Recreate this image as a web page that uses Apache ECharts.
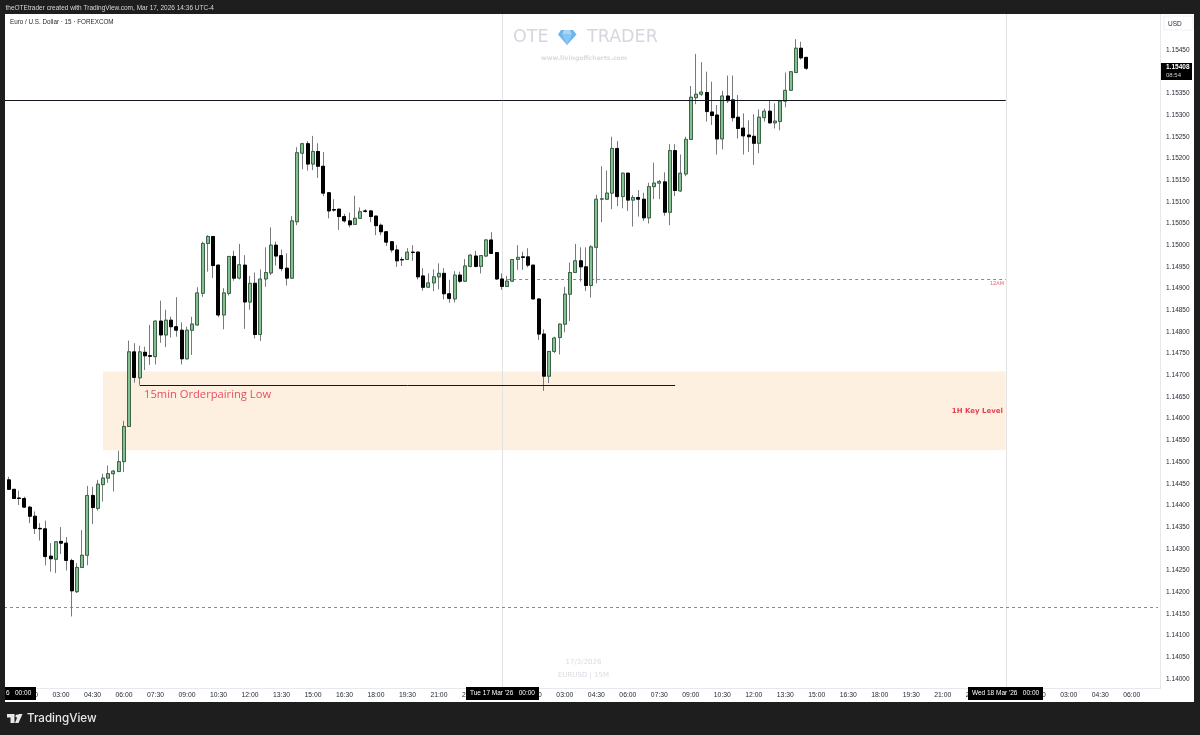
<!DOCTYPE html>
<html><head><meta charset="utf-8">
<style>html,body{margin:0;padding:0;background:#1e1e1e}#c{width:1200px;height:735px}</style>
<script src="https://cdn.jsdelivr.net/npm/echarts@6/dist/echarts.min.js"></script>
</head><body><div id="c"></div>
<script>
const opens=[1.14459,1.14437,1.14417,1.14416,1.14396,1.14375,1.14347,1.14346,1.14283,1.14276,
1.14317,1.14313,1.14273,1.14201,1.14257,1.14285,1.14423,1.14393,1.14448,1.14463,
1.14473,1.14478,1.14501,1.14582,1.14754,1.14694,1.14753,1.14745,1.14743,1.14825,
1.14793,1.14827,1.14812,1.14804,1.14738,1.14804,1.14816,1.14889,1.15004,1.15020,
1.14954,1.14839,1.14889,1.14974,1.14924,1.14954,1.14869,1.14912,1.14794,1.14922,
1.14936,1.15000,1.14976,1.14947,1.14924,1.15054,1.15212,1.15234,1.15187,1.15216,
1.15182,1.15121,1.15082,1.15083,1.15066,1.15056,1.15048,1.15062,1.15079,1.15079,
1.15067,1.15046,1.15031,1.15008,1.14989,1.14967,1.14967,1.14984,1.14984,1.14929,
1.14903,1.14913,1.14927,1.14935,1.14888,1.14876,1.14931,1.14917,1.14951,1.14975,
1.14951,1.14975,1.15012,1.14983,1.14922,1.14905,1.14917,1.14967,1.14973,1.14973,
1.14954,1.14876,1.14795,1.14698,1.14755,1.14787,1.14818,1.14887,1.14937,1.14964,
1.14950,1.14907,1.14995,1.15106,1.15106,1.15120,1.15223,1.15112,1.15166,1.15104,
1.15110,1.15106,1.15063,1.15135,1.15143,1.15146,1.15076,1.15218,1.15125,1.15164,
1.15244,1.15340,1.15348,1.15352,1.15307,1.15300,1.15245,1.15344,1.15335,1.15295,
1.15270,1.15254,1.15251,1.15235,1.15294,1.15309,1.15282,1.15285,1.15332,1.15357,
1.15398,1.15454,1.15433];
const closes=[1.14437,1.14416,1.14416,1.14396,1.14375,1.14347,1.14346,1.14282,1.14277,1.14316,
1.14313,1.14273,1.14203,1.14257,1.14285,1.14423,1.14395,1.14449,1.14463,1.14473,
1.14479,1.14501,1.14582,1.14754,1.14695,1.14754,1.14745,1.14744,1.14825,1.14793,
1.14827,1.14812,1.14804,1.14738,1.14804,1.14818,1.14890,1.15004,1.15020,1.14953,
1.14839,1.14890,1.14974,1.14924,1.14955,1.14869,1.14912,1.14794,1.14922,1.14937,
1.15000,1.14975,1.14946,1.14924,1.15056,1.15213,1.15234,1.15187,1.15216,1.15182,
1.15120,1.15079,1.15081,1.15066,1.15056,1.15047,1.15062,1.15077,1.15078,1.15066,
1.15045,1.15031,1.15007,1.14989,1.14964,1.14966,1.14984,1.14983,1.14927,1.14903,
1.14913,1.14927,1.14935,1.14888,1.14877,1.14931,1.14917,1.14952,1.14977,1.14951,
1.14976,1.15012,1.14981,1.14922,1.14905,1.14917,1.14967,1.14972,1.14972,1.14954,
1.14876,1.14795,1.14698,1.14755,1.14786,1.14818,1.14887,1.14937,1.14964,1.14950,
1.14907,1.14996,1.15106,1.15107,1.15120,1.15223,1.15112,1.15166,1.15104,1.15110,
1.15106,1.15063,1.15135,1.15143,1.15147,1.15076,1.15218,1.15126,1.15166,1.15244,
1.15341,1.15348,1.15353,1.15308,1.15299,1.15245,1.15344,1.15333,1.15294,1.15269,
1.15252,1.15250,1.15235,1.15295,1.15309,1.15282,1.15286,1.15332,1.15357,1.15400,
1.15454,1.15432,1.15408];
const highs=[1.14466,1.14437,1.14434,1.14420,1.14399,1.14386,1.14359,1.14365,1.14313,1.14317,
1.14350,1.14327,1.14277,1.14267,1.14343,1.14445,1.14443,1.14459,1.14473,1.14492,
1.14482,1.14526,1.14595,1.14780,1.14774,1.14768,1.14766,1.14816,1.14826,1.14872,
1.14851,1.14835,1.14880,1.14822,1.14812,1.14835,1.14903,1.15008,1.15023,1.15021,
1.14955,1.14901,1.14975,1.14987,1.15003,1.14977,1.14929,1.14937,1.14944,1.14995,
1.15041,1.15008,1.14990,1.14981,1.15067,1.15226,1.15236,1.15240,1.15252,1.15235,
1.15215,1.15122,1.15106,1.15084,1.15072,1.15075,1.15114,1.15087,1.15083,1.15081,
1.15068,1.15050,1.15032,1.15009,1.15000,1.14973,1.14993,1.15000,1.14985,1.14947,
1.14935,1.14944,1.14958,1.14947,1.14920,1.14940,1.14939,1.14968,1.14979,1.14987,
1.14977,1.15013,1.15030,1.14984,1.14935,1.14929,1.14968,1.15000,1.14985,1.14993,
1.14955,1.14877,1.14806,1.14756,1.14789,1.14819,1.14904,1.14960,1.15003,1.14995,
1.14995,1.15000,1.15116,1.15182,1.15172,1.15250,1.15240,1.15167,1.15167,1.15116,
1.15127,1.15121,1.15144,1.15190,1.15150,1.15168,1.15233,1.15233,1.15209,1.15250,
1.15367,1.15441,1.15422,1.15400,1.15377,1.15323,1.15356,1.15391,1.15391,1.15346,
1.15304,1.15288,1.15302,1.15313,1.15315,1.15333,1.15327,1.15335,1.15398,1.15401,
1.15475,1.15469,1.15434];
const lows=[1.14436,1.14415,1.14401,1.14395,1.14359,1.14334,1.14319,1.14262,1.14247,1.14244,
1.14288,1.14250,1.14144,1.14198,1.14256,1.14262,1.14357,1.14388,1.14409,1.14452,
1.14432,1.14477,1.14477,1.14581,1.14683,1.14678,1.14712,1.14724,1.14725,1.14775,
1.14765,1.14787,1.14789,1.14725,1.14737,1.14747,1.14815,1.14881,1.14939,1.14924,
1.14834,1.14806,1.14884,1.14918,1.14921,1.14807,1.14851,1.14785,1.14779,1.14904,
1.14931,1.14953,1.14940,1.14907,1.14923,1.15046,1.15175,1.15172,1.15173,1.15155,
1.15113,1.15062,1.15077,1.15035,1.15052,1.15041,1.15047,1.15061,1.15075,1.15053,
1.15023,1.15023,1.14998,1.14983,1.14950,1.14952,1.14966,1.14964,1.14921,1.14895,
1.14901,1.14894,1.14898,1.14875,1.14867,1.14868,1.14913,1.14915,1.14949,1.14949,
1.14935,1.14973,1.14980,1.14920,1.14897,1.14904,1.14915,1.14943,1.14943,1.14949,
1.14875,1.14781,1.14664,1.14682,1.14751,1.14748,1.14799,1.14825,1.14936,1.14916,
1.14894,1.14879,1.14912,1.15053,1.15105,1.15083,1.15090,1.15085,1.15079,1.15043,
1.15066,1.15056,1.15050,1.15106,1.15106,1.15068,1.15046,1.15113,1.15123,1.15159,
1.15243,1.15325,1.15344,1.15285,1.15277,1.15209,1.15221,1.15328,1.15285,1.15246,
1.15209,1.15215,1.15185,1.15212,1.15285,1.15281,1.15269,1.15265,1.15318,1.15356,
1.15397,1.15428,1.15404];
const leadingSlots=2;
const slotCount=222;
const timeLabels=['00:00','01:30','03:00','04:30','06:00','07:30','09:00','10:30','12:00','13:30','15:00','16:30','18:00','19:30','21:00','22:30'];
const priceTicks=[1.14,1.1405,1.141,1.1415,1.142,1.1425,1.143,1.1435,1.144,1.1445,1.145,1.1455,1.146,1.1465,1.147,1.1475,1.148,1.1485,1.149,1.1495,1.15,1.1505,1.151,1.1515,1.152,1.1525,1.153,1.1535,1.1545];
const lastPrice='1.15408', countdown='08:54';
const resistance=1.15333, lowerDashed=1.14166, midnightDashed=1.14922, orderLow=1.14678;
const zoneTop=1.14709, zoneBottom=1.14527;
const tueSlot=96, wedSlot=192;

const slots=Array.from({length:slotCount},(_,k)=>timeLabels[Math.floor(k/6)%16]);
const blank=Array(leadingSlots).fill('-');
const fullData=blank.concat(opens.map((o,i)=>[o,closes[i],lows[i],highs[i]]));
const bodyData=blank.concat(opens.map((o,i)=>[o,closes[i],Math.min(o,closes[i]),Math.max(o,closes[i])]));
const line=(a,b,price)=>[{xAxis:a,yAxis:price},{xAxis:b,yAxis:price}];
const UI='"Liberation Sans",Arial,sans-serif';
const dark='#1e1e1e';
const rect=(x,y,width,height,fill,z)=>({type:'rect',shape:{x,y,width,height},style:{fill},z:z||100,silent:true});
const txt=(x,y,text,font,fill,align,z)=>({type:'text',x,y,z:z||101,silent:true,style:{text,font,fill,align:align||'left',verticalAlign:'middle'}});
const poly=(points,fill,z)=>({type:'polygon',shape:{points},style:{fill},z:z||60,silent:true});
const dashed={color:'#8a8a8a',type:[3,3],width:1};

const chart=echarts.init(document.getElementById('c'),null,{renderer:'canvas'});
chart.setOption({
  animation:false,
  backgroundColor:'#ffffff',
  grid:{left:-4.6,top:14,width:1165.2,height:674,containLabel:false,outerBoundsMode:'none'},
  xAxis:{type:'category',data:slots,boundaryGap:true,
    axisLine:{show:true,lineStyle:{color:'#e6e8ee',width:1}},
    axisTick:{show:false},splitLine:{show:false},
    axisLabel:{interval:5,color:'#1f2430',fontSize:6.8,fontFamily:UI,margin:3.5,hideOverlap:false}},
  yAxis:{type:'value',position:'right',min:1.13979,max:1.15533,scale:true,
    axisLine:{show:true,lineStyle:{color:'#e6e8ee',width:1}},
    axisTick:{show:false},splitLine:{show:false},
    axisLabel:{customValues:priceTicks,formatter:v=>v.toFixed(5),color:'#1f2430',fontSize:6.5,fontFamily:UI,margin:5.5}},
  series:[
    {name:'wicks',type:'candlestick',data:fullData,barWidth:3,z:2,
     itemStyle:{color:'#777b80',color0:'#777b80',borderColor:'#777b80',borderColor0:'#777b80',borderWidth:1},
     markArea:{silent:true,z:1,itemStyle:{color:'#fdf0e0'},
       data:[[{xAxis:20,yAxis:zoneTop},{xAxis:wedSlot,yAxis:zoneBottom}]]},
     markLine:{silent:true,z:1,symbol:'none',label:{show:false},animation:false,
       data:[
        {xAxis:tueSlot,lineStyle:{color:'#e3e3e3',type:'solid',width:1}},
        {xAxis:wedSlot,lineStyle:{color:'#e3e3e3',type:'solid',width:1}},
        line(97,wedSlot,midnightDashed).map(p=>Object.assign(p,{lineStyle:dashed})),
        line(0,slotCount-1,lowerDashed).map(p=>Object.assign(p,{lineStyle:dashed}))
       ]}},
    {name:'bodies',type:'candlestick',data:bodyData,barWidth:3.5,z:3,
     itemStyle:{color:'#84c190',color0:'#000000',borderColor:'#3f6349',borderColor0:'#000000',borderWidth:1},
     markLine:{silent:true,z:6,symbol:'none',label:{show:false},animation:false,
       lineStyle:{color:'#131722',type:'solid',width:1},
       data:[line(0,wedSlot,resistance),line(27,129,orderLow)]}}
  ],
  graphic:{elements:[
    rect(0,0,1200,14,dark),rect(0,702,1200,33,dark),rect(0,0,5,735,dark),rect(1194,0,6,735,dark),
    txt(5.5,8,'theOTEtrader created with TradingView.com, Mar 17, 2026 14:36 UTC-4','6.5px '+UI,'#d8d8d8'),
    txt(10,22.5,'Euro / U.S. Dollar · 15 · FOREXCOM','6.3px '+UI,'#1f2430'),
    {type:'rect',shape:{x:1164,y:16,width:29,height:14},style:{fill:'none',stroke:'#eef0f3',lineWidth:1},z:100,silent:true},
    txt(1168,24,'USD','6.5px '+UI,'#1f2430'),
    rect(1161,63,31,17,'#000000'),
    txt(1166,67.5,lastPrice,'bold 6.5px '+UI,'#ffffff'),
    txt(1166,75.5,countdown,'6px '+UI,'#cfcfcf'),
    txt(513,37,'OTE','17.5px "DejaVu Sans"','#d4d7dd',null,50),
    txt(587,37,'TRADER','17.5px "DejaVu Sans"','#d4d7dd',null,50),
    poly([[561,30],[573,30],[576.5,34.5],[567,45],[558,34.5]],'#6fb3ec'),
    poly([[564,30],[570,30],[572,34.5],[562,34.5]],'#a8d6f6',61),
    poly([[562,34.5],[572,34.5],[567,45]],'#8ac6f2',61),
    txt(541,58.5,'www.livingoffcharts.com','bold 6.2px "DejaVu Sans"','#d8dbe0',null,50),
    txt(583.5,662,'17/3/2026','7px "DejaVu Sans"','#d8dbe0','center',50),
    txt(583.5,675.5,'EURUSD | 15M','7px "DejaVu Sans"','#d8dbe0','center',50),
    txt(144,395,'15min Orderpairing Low','11.2px "Open Sans"','#e84f5e',null,50),
    txt(1003,411,'1H Key Level','bold 7px "DejaVu Sans"','#e5404f','right',50),
    txt(1004,284,'12AM','5px "DejaVu Sans"','#e5606a','right',50),
    rect(5,687,31,13,'#000000'),
    txt(6,693.5,'6','6.5px '+UI,'#ffffff'),
    txt(15,693.5,'00:00','6.5px '+UI,'#ffffff'),
    rect(466,687,73,13,'#000000'),
    txt(502.5,693.5,"Tue 17 Mar '26   00:00",'6.5px '+UI,'#ffffff','center'),
    rect(968,687,75,13,'#000000'),
    txt(1005.5,693.5,"Wed 18 Mar '26   00:00",'6.5px '+UI,'#ffffff','center'),
    poly([[7,714],[14.5,714],[14.5,723],[10.5,723],[10.5,717.5],[7,717.5]],'#e8e8e8',102),
    {type:'circle',shape:{cx:17,cy:716,r:1.6},style:{fill:'#e8e8e8'},z:102,silent:true},
    poly([[18.5,714],[22.5,714],[18.5,723],[15,723]],'#e8e8e8',102),
    txt(27,718.5,'TradingView','500 11.6px Inter, "Liberation Sans"','#e8e8e8')
  ]}
});
</script></body></html>
